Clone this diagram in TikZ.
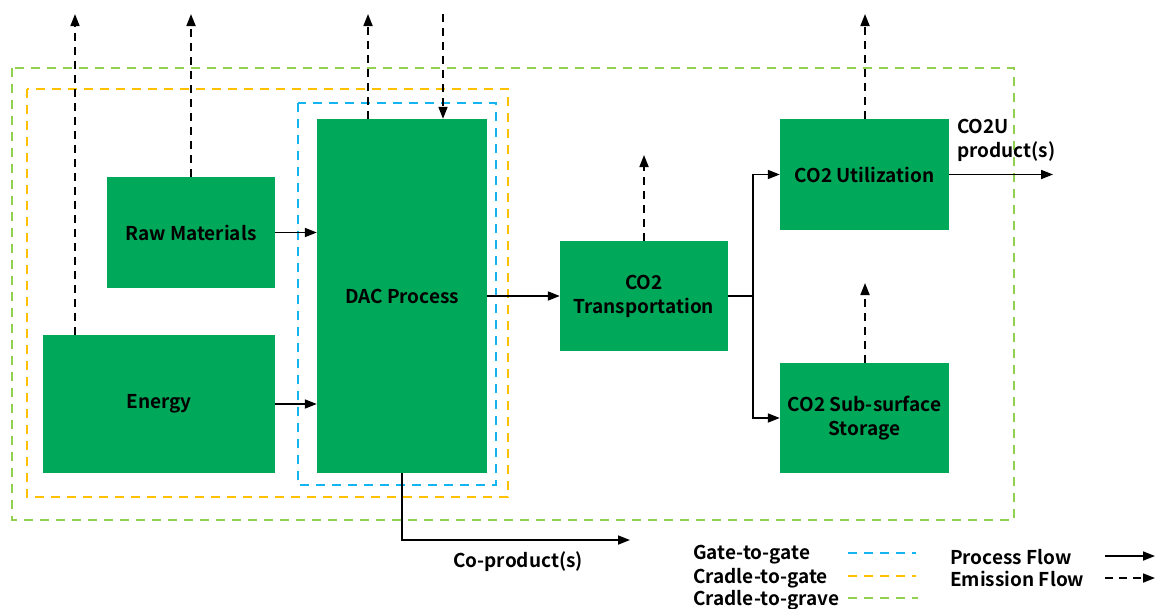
\documentclass[tikz,border=0pt]{standalone}
\usepackage{fontspec}
\setmainfont{Noto Sans CJK JP}[BoldFont={Noto Sans CJK JP Bold}]
\usetikzlibrary{arrows.meta}

\definecolor{boxgreen}{RGB}{0,168,89}
\definecolor{g2gblue}{RGB}{20,180,240}
\definecolor{c2gyellow}{RGB}{255,192,0}
\definecolor{c2grgreen}{RGB}{146,208,80}

\tikzset{
    stage/.style={fill=boxgreen, draw=none, align=center, font=\bfseries\fontsize{19}{24}\selectfont},
    flow/.style={line width=1.7pt, -{Triangle[length=12pt,width=9pt]}},
    emis/.style={flow, dash pattern=on 8pt off 6pt},
    bound/.style={line width=1.6pt, dash pattern=on 9pt off 7pt},
    lbl/.style={font=\bfseries\fontsize{19}{24}\selectfont, inner sep=0pt}
}

\begin{document}
\begin{tikzpicture}[x=1pt,y=-1pt]
    \useasboundingbox (0,0) rectangle (1155,608);

    % system boundaries
    \draw[bound, c2grgreen] (12,68) rectangle (1014,520);
    \draw[bound, c2gyellow] (27,89) rectangle (508,497);
    \draw[bound, g2gblue] (298,103) rectangle (496,485);

    % process stages
    \node[stage, minimum width=168pt, minimum height=111pt] (raw) at (191,232.5) {Raw Materials};
    \node[stage, minimum width=232pt, minimum height=138pt] (energy) at (159,404) {Energy};
    \node[stage, minimum width=170pt, minimum height=354pt] (dac) at (402,296) {DAC Process};
    \node[stage, minimum width=168pt, minimum height=110pt] (trans) at (644,296) {CO2\\Transportation};
    \node[stage, minimum width=169pt, minimum height=111pt] (util) at (864.5,174.5) {CO2 Utilization};
    \node[stage, minimum width=169pt, minimum height=110pt] (store) at (864.5,418) {CO2 Sub-surface\\Storage};

    % process flow
    \coordinate (split) at (753,296);
    \coordinate (out) at (1053,174.5);
    \coordinate (coprod) at (630,540);
    \draw[flow] (raw.east) -- (raw.east -| dac.west);
    \draw[flow] (energy.east) -- (energy.east -| dac.west);
    \draw[flow] (dac.east) -- (trans.west);
    \draw[line width=1.7pt] (trans.east) -- (split);
    \draw[flow] (split) |- (util.west);
    \draw[flow] (split) |- (store.west);
    \draw[flow] (util.east) -- (out);
    \draw[flow] (dac.south) |- (coprod);
    \node[lbl, anchor=north west, align=left] (co2u) at (957,119) {CO2U\\product(s)};
    \node[lbl] (coprodlbl) at (518,562) {Co-product(s)};

    % emission flow
    \coordinate (e1) at (75,14);
    \coordinate (e2) at (191,14);
    \coordinate (e3) at (368,14);
    \coordinate (e4) at (443,14);
    \coordinate (e5) at (644,155);
    \coordinate (e6) at (865,14);
    \coordinate (e7) at (865,283);
    \draw[emis] (energy.north -| e1) -- (e1);
    \draw[emis] (raw.north) -- (e2);
    \draw[emis] (dac.north -| e3) -- (e3);
    \draw[emis] (e4) -- (dac.north -| e4);
    \draw[emis] (trans.north) -- (e5);
    \draw[emis] (util.north -| e6) -- (e6);
    \draw[emis] (store.north -| e7) -- (e7);

    % legend
    \node[lbl, anchor=west] (lg1) at (693,555) {Gate-to-gate};
    \node[lbl, anchor=west] (lg2) at (693,578) {Cradle-to-gate};
    \node[lbl, anchor=west] (lg3) at (693,600) {Cradle-to-grave};
    \coordinate (b1) at (848,553);
    \coordinate (b2) at (848,576);
    \coordinate (b3) at (848,598);
    \draw[bound, g2gblue] (b1) -- ++(68,0);
    \draw[bound, c2gyellow] (b2) -- ++(68,0);
    \draw[bound, c2grgreen] (b3) -- ++(70,0);
    \node[lbl, anchor=west] (lg4) at (950,557) {Process Flow};
    \node[lbl, anchor=west] (lg5) at (950,579) {Emission Flow};
    \coordinate (f1) at (1105,556);
    \coordinate (f2) at (1105,578);
    \draw[flow] (f1) -- ++(50,0);
    \draw[emis] (f2) -- ++(50,0);
\end{tikzpicture}
\end{document}
